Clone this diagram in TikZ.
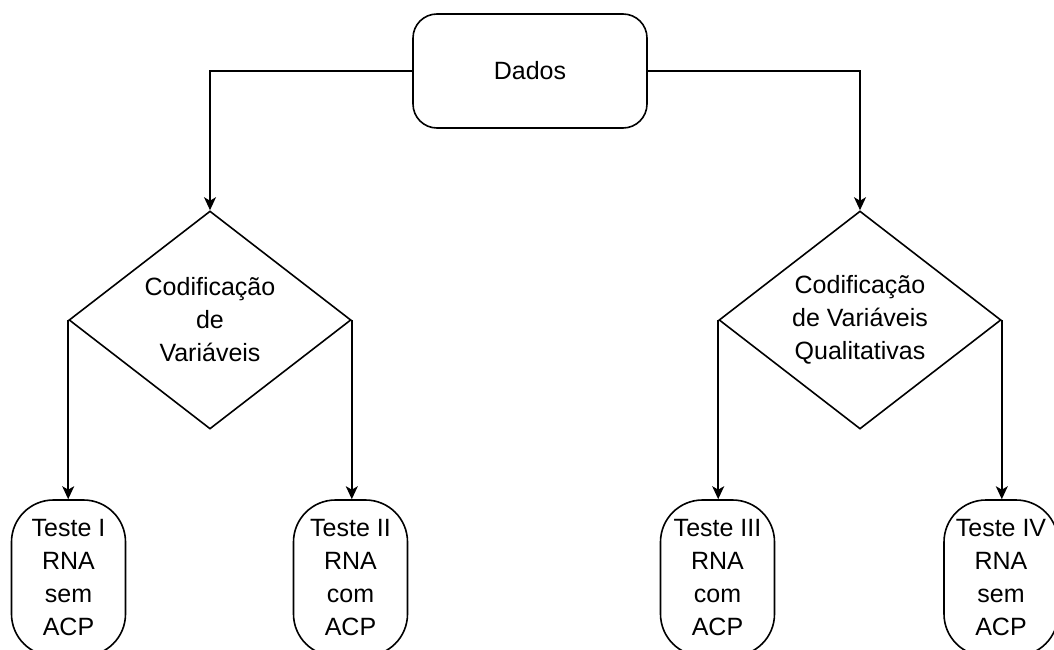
\documentclass[tikz,border=0pt]{standalone}
\usepackage{fontspec}
\setmainfont{Liberation Sans}
\usetikzlibrary{shapes.geometric,arrows.meta}
\begin{document}
\begin{tikzpicture}[x=1pt,y=-1pt,
    txt/.style={font=\fontsize{25}{33}\selectfont, align=center},
    dadosbox/.style={draw, line width=1.6pt, rounded corners=24pt, minimum width=234pt, minimum height=114pt, txt},
    testbox/.style={draw, line width=1.6pt, rounded corners=42pt, minimum width=114pt, minimum height=156pt, inner sep=0pt, txt},
    codif/.style={draw, diamond, line width=1.6pt, minimum width=282pt, minimum height=218pt, inner sep=0pt},
    seta/.style={line width=1.6pt, -{Stealth[length=13pt, width=12pt, inset=3.5pt]}}]
    \useasboundingbox (0,0) rectangle (1054,650);
    \node[dadosbox] (dados) at (530,71) {Dados};
    \node[codif, label={[txt]center:Codificação\\de\\Variáveis}] (cod1) at (210,320) {};
    \node[codif, label={[txt]center:Codificação\\de Variáveis\\Qualitativas}] (cod2) at (860,320) {};
    \node[testbox] (t1) at (68.5,578) {Teste I\\RNA\\sem\\ACP};
    \node[testbox] (t2) at (350.5,578) {Teste II\\RNA\\com\\ACP};
    \node[testbox] (t3) at (717.5,578) {Teste III\\RNA\\com\\ACP};
    \node[testbox] (t4) at (1001,578) {Teste IV\\RNA\\sem\\ACP};
    \draw[seta] (dados.west) -| (cod1.north);
    \draw[seta] (dados.east) -| (cod2.north);
    \draw[seta] (cod1.west) -- (cod1.west |- t1.north);
    \draw[seta] (cod1.east) -- (cod1.east |- t2.north);
    \draw[seta] (cod2.west) -- (cod2.west |- t3.north);
    \draw[seta] (cod2.east) -- (cod2.east |- t4.north);
\end{tikzpicture}
\end{document}
